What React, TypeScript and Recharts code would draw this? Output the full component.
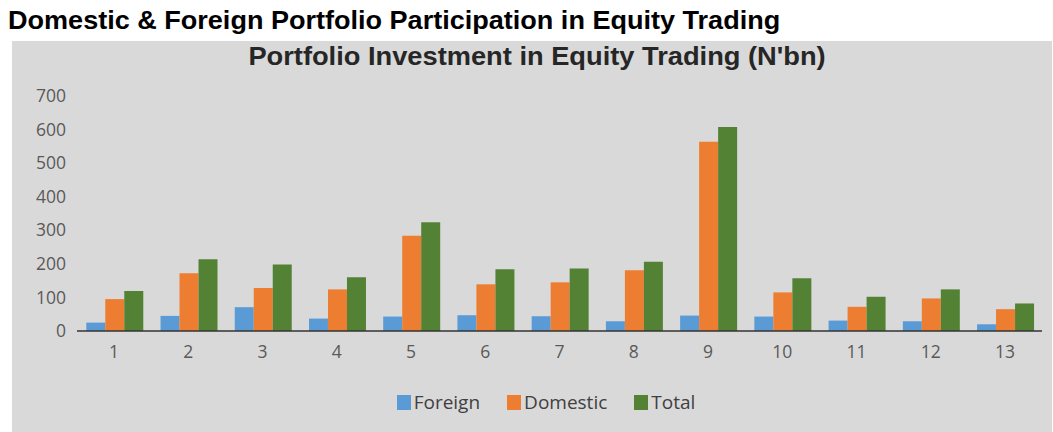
import { BarChart, Bar, XAxis, YAxis, Legend } from 'recharts';

const periods = ['1', '2', '3', '4', '5', '6', '7', '8', '9', '10', '11', '12', '13'];
const foreign = [25, 45, 71, 37, 43, 47, 44, 29, 46, 43, 31, 29, 20];
const domestic = [95, 172, 128, 124, 284, 139, 145, 181, 564, 115, 72, 97, 65];
const total = [119, 214, 198, 160, 324, 184, 186, 206, 608, 157, 102, 124, 82];
const yTicks = [0, 100, 200, 300, 400, 500, 600, 700];

const series = [
  { key: 'foreign', name: 'Foreign', color: '#5B9BD5' },
  { key: 'domestic', name: 'Domestic', color: '#ED7D31' },
  { key: 'total', name: 'Total', color: '#548235' },
];

const chartData = periods.map((p, i) => ({
  period: p,
  foreign: foreign[i],
  domestic: domestic[i],
  total: total[i],
}));

const axisFont = { fontFamily: '"Open Sans", sans-serif', fontSize: 17.5, fill: '#595959' };

function LegendRow() {
  return (
    <div style={{ display: 'flex', justifyContent: 'center', gap: 27, fontFamily: '"Open Sans", sans-serif', fontSize: 19, color: '#404040', paddingLeft: 28 }}>
      {series.map((s) => (
        <div key={s.key} style={{ display: 'flex', alignItems: 'center' }}>
          <span style={{ display: 'inline-block', width: 14, height: 15, background: s.color, marginRight: 3 }} />
          <span>{s.name}</span>
        </div>
      ))}
    </div>
  );
}

export default function App() {
  return (
    <div style={{ position: 'absolute', left: 0, top: 0, width: 1053, height: 432, background: '#fff', overflow: 'hidden' }}>
      <div
        style={{
          position: 'absolute',
          left: 8,
          top: 7,
          fontFamily: '"Liberation Sans", Arial, sans-serif',
          fontWeight: 'bold',
          fontSize: 26,
          lineHeight: '26px',
          color: '#000',
          whiteSpace: 'nowrap',
          transform: 'scaleX(1.04)',
          transformOrigin: 'left top',
        }}
      >
        Domestic &amp; Foreign Portfolio Participation in Equity Trading
      </div>
      <div style={{ position: 'absolute', left: 12, top: 41, width: 1040, height: 391, background: '#D9D9D9' }}>
        <div
          style={{
            position: 'absolute',
            left: 0,
            top: 3,
            width: 1050,
            textAlign: 'center',
            fontFamily: '"Liberation Sans", Arial, sans-serif',
            fontWeight: 'bold',
            fontSize: 25,
            lineHeight: '25px',
            color: '#262626',
            whiteSpace: 'nowrap',
            transform: 'scaleX(1.09)',
          }}
        >
          Portfolio Investment in Equity Trading (N'bn)
        </div>
        <BarChart
          width={1040}
          height={391}
          data={chartData}
          margin={{ top: 55, right: 10, bottom: 71, left: 0 }}
          barCategoryGap="12.5%"
          barGap={0}
        >
          <XAxis
            dataKey="period"
            height={30}
            tick={axisFont}
            tickLine={false}
            tickMargin={9}
            axisLine={{ stroke: '#333', strokeWidth: 1.5 }}
          />
          <YAxis
            width={65}
            domain={[0, 700]}
            ticks={yTicks}
            tick={axisFont}
            tickLine={false}
            axisLine={false}
            tickMargin={5}
            interval={0}
          />
          <Legend
            layout="horizontal"
            verticalAlign="middle"
            align="center"
            wrapperStyle={{ top: 348, left: 0, width: 1040 }}
            content={() => <LegendRow />}
          />
          {series.map((s) => (
            <Bar key={s.key} dataKey={s.key} name={s.name} fill={s.color} isAnimationActive={false} />
          ))}
        </BarChart>
      </div>
    </div>
  );
}
